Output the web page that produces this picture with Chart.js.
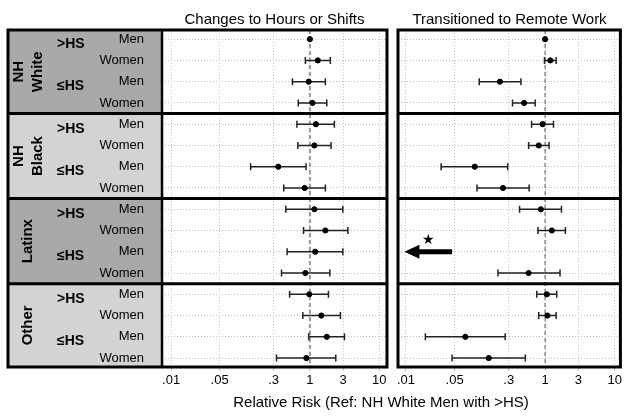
<!DOCTYPE html>
<html>
<head>
<meta charset="utf-8">
<script src="https://cdn.jsdelivr.net/npm/chart.js@4.4.0/dist/chart.umd.min.js"></script>
<style>
  html, body { margin: 0; padding: 0; background: #fff; overflow: hidden; }
  #wrap { position: relative; width: 624px; height: 418px; font-family: "Liberation Sans", Arial, sans-serif; }
  .title { position: absolute; font-size: 15px; line-height: 15px; text-align: center; color: #000; white-space: nowrap; }
  #hoursBox { position: absolute; left: 0; top: 0; width: 392px; height: 418px; }
  #remoteBox { position: absolute; left: 392px; top: 0; width: 232px; height: 418px; }
</style>
</head>
<body>
<div id="wrap">
  <div id="hoursBox"><canvas id="hours" width="392" height="418"></canvas></div>
  <div id="remoteBox"><canvas id="remote" width="232" height="418"></canvas></div>
  <div class="title" id="t1" style="left:162px;width:225px;top:11px"></div>
  <div class="title" id="t2" style="left:398px;width:223px;top:11px"></div>
  <div class="title" id="t3" style="left:100px;width:562px;top:394px"></div>
</div>
<script>
// categories (rows go group -> education -> sex)
const groupNames = [['NH', 'White'], ['NH', 'Black'], ['Latinx'], ['Other']];
const eduLabels = ['>HS', '≤HS'];
const sexLabels = ['Men', 'Women'];
const panelTitles = ['Changes to Hours or Shifts', 'Transitioned to Remote Work'];
const axisTitle = 'Relative Risk (Ref: NH White Men with >HS)';

// x axis ticks
const xTickValues = [0.01, 0.05, 0.3, 1, 3, 10];
const xTickLabels = ['.01', '.05', '.3', '1', '3', '10'];
const refValue = 1;

// relative risks, 16 rows
const hoursEst  = [1.00, 1.30, 0.96, 1.09, 1.22, 1.16, 0.35, 0.84, 1.16, 1.67, 1.19, 0.86, 0.98, 1.46, 1.75, 0.89];
const hoursLow  = [null, 0.86, 0.56, 0.68, 0.65, 0.67, 0.14, 0.42, 0.45, 0.81, 0.47, 0.39, 0.51, 0.79, 0.96, 0.33];
const hoursHigh = [null, 1.97, 1.67, 1.75, 2.25, 2.02, 0.88, 1.67, 2.98, 3.52, 2.98, 1.94, 1.85, 2.75, 3.14, 2.36];

const remoteEst  = [1.00, 1.19, 0.224, 0.50, 0.92, 0.81, 0.0975, 0.248, 0.87, 1.25, null, 0.58, 1.06, 1.08, 0.0714, 0.155];
const remoteLow  = [null, 0.98, 0.113, 0.34, 0.64, 0.58, 0.032, 0.105, 0.43, 0.79, null, 0.21, 0.76, 0.81, 0.019, 0.046];
const remoteHigh = [null, 1.44, 0.45, 0.72, 1.32, 1.14, 0.29, 0.59, 1.72, 1.96, null, 1.64, 1.47, 1.44, 0.267, 0.52];

// Latinx <=HS men, remote work: not estimable -> arrow with star
const arrowRow = 10;
const arrowFrom = 0.046;
const arrowTo = 0.0095;
const starAt = 0.021;

const FONT = '"Liberation Sans", Arial, sans-serif';
const rowPositions = [];
groupNames.forEach((g, gi) => eduLabels.forEach((e, ei) => sexLabels.forEach((s, si) => rowPositions.push(gi * 4 + ei * 2 + si))));

document.getElementById('t1').textContent = panelTitles[0];
document.getElementById('t2').textContent = panelTitles[1];
document.getElementById('t3').textContent = axisTitle;

const forestPlugin = (low, high, ref, labelLeft, drawLabels) => ({
  id: 'forest',
  beforeDatasetsDraw(chart) {
    const { ctx, chartArea: a, scales: { x, y } } = chart;
    ctx.save();
    // dashed reference line at RR = 1
    const rx = x.getPixelForValue(refValue);
    ctx.beginPath();
    ctx.setLineDash(ref.dash);
    ctx.strokeStyle = ref.color;
    ctx.lineWidth = ref.width;
    ctx.moveTo(rx, a.top);
    ctx.lineTo(rx, a.bottom);
    ctx.stroke();
    ctx.setLineDash([]);
    // confidence intervals
    ctx.strokeStyle = '#222';
    ctx.lineWidth = 1.5;
    low.forEach((lo, i) => {
      if (lo == null) return;
      const x1 = x.getPixelForValue(lo), x2 = x.getPixelForValue(high[i]);
      const py = y.getPixelForValue(rowPositions[i]);
      ctx.beginPath();
      ctx.moveTo(x1, py); ctx.lineTo(x2, py);
      ctx.moveTo(x1, py - 3.5); ctx.lineTo(x1, py + 3.5);
      ctx.moveTo(x2, py - 3.5); ctx.lineTo(x2, py + 3.5);
      ctx.stroke();
    });
    ctx.restore();
  },
  afterDraw(chart) {
    const { ctx, chartArea: a, scales: { y } } = chart;
    ctx.save();
    const seps = [3.5, 7.5, 11.5].map(v => y.getPixelForValue(v));
    const edges = [a.top, ...seps, a.bottom];
    if (drawLabels) {
      groupNames.forEach((g, gi) => {
        ctx.fillStyle = gi % 2 === 0 ? '#a9a9a9' : '#d3d3d3';
        ctx.fillRect(labelLeft, edges[gi], a.left - labelLeft, edges[gi + 1] - edges[gi]);
        // rotated group label
        const cy = (edges[gi] + edges[gi + 1]) / 2;
        ctx.save();
        ctx.translate(28, cy);
        ctx.rotate(-Math.PI / 2);
        ctx.fillStyle = '#000';
        ctx.font = 'bold 15px ' + FONT;
        ctx.textAlign = 'center';
        ctx.textBaseline = 'middle';
        g.forEach((line, li) => ctx.fillText(line, 0, (li - (g.length - 1) / 2) * 19));
        ctx.restore();
        eduLabels.forEach((e, ei) => {
          const row = gi * 4 + ei * 2;
          ctx.fillStyle = '#000';
          ctx.font = 'bold 14px ' + FONT;
          ctx.textAlign = 'left';
          ctx.textBaseline = 'middle';
          ctx.fillText(e, 57, y.getPixelForValue(row + 0.22));
          sexLabels.forEach((s, si) => {
            ctx.font = '13px ' + FONT;
            ctx.textAlign = 'right';
            ctx.fillText(s, 144, y.getPixelForValue(row + si));
          });
        });
      });
    }
    ctx.strokeStyle = '#000';
    ctx.lineWidth = 3;
    seps.forEach(sy => {
      ctx.beginPath();
      ctx.moveTo(labelLeft, sy);
      ctx.lineTo(a.right, sy);
      ctx.stroke();
    });
    ctx.strokeRect(labelLeft, a.top, a.right - labelLeft, a.bottom - a.top);
    if (drawLabels) {
      ctx.lineWidth = 2.5;
      ctx.beginPath();
      ctx.moveTo(a.left, a.top);
      ctx.lineTo(a.left, a.bottom);
      ctx.stroke();
    }
    ctx.restore();
  }
});

const arrowPlugin = {
  id: 'arrow',
  afterDatasetsDraw(chart) {
    const { ctx, scales: { x, y } } = chart;
    const py = y.getPixelForValue(rowPositions[arrowRow]);
    const xTail = x.getPixelForValue(arrowFrom), xTip = x.getPixelForValue(arrowTo);
    ctx.save();
    ctx.fillStyle = '#000';
    ctx.fillRect(xTip + 13, py - 2.5, xTail - xTip - 13, 5);
    ctx.beginPath();
    ctx.moveTo(xTip, py);
    ctx.lineTo(xTip + 15, py - 7);
    ctx.lineTo(xTip + 15, py + 7);
    ctx.closePath();
    ctx.fill();
    ctx.font = '14px "DejaVu Sans", sans-serif';
    ctx.textAlign = 'center';
    ctx.textBaseline = 'middle';
    ctx.fillText('★', x.getPixelForValue(starAt), y.getPixelForValue(rowPositions[arrowRow] - 0.55));
    ctx.restore();
  }
};

function makeChart(id, est, low, high, xMin, xMax, pad, ref, labelLeft, drawLabels, extra) {
  const points = [];
  est.forEach((v, i) => { if (v != null) points.push({ x: v, y: rowPositions[i] }); });
  return new Chart(document.getElementById(id).getContext('2d'), {
    type: 'scatter',
    data: {
      datasets: [{
        data: points,
        backgroundColor: '#000',
        borderColor: '#000',
        pointRadius: 2.6,
        pointHoverRadius: 2.6
      }]
    },
    options: {
      responsive: false,
      animation: false,
      layout: { padding: pad },
      plugins: { legend: { display: false }, tooltip: { enabled: false } },
      scales: {
        x: {
          type: 'logarithmic',
          min: xMin,
          max: xMax,
          afterBuildTicks: s => { s.ticks = xTickValues.map(v => ({ value: v })); },
          afterFit: s => { s.height = 51; },
          ticks: {
            callback: (v, i) => xTickLabels[i],
            color: '#000',
            font: { family: FONT, size: 13 },
            padding: 2,
            maxRotation: 0,
            autoSkip: false
          },
          grid: { color: '#c4c4c4', lineWidth: 1, drawTicks: true, tickLength: 4, tickColor: '#c4c4c4' },
          border: { display: false, dash: [1, 2] }
        },
        y: {
          type: 'linear',
          min: -0.43,
          max: 15.42,
          reverse: true,
          afterBuildTicks: s => { s.ticks = rowPositions.map(v => ({ value: v })); },
          afterFit: s => { s.width = 0; },
          ticks: { display: false },
          grid: { color: '#c4c4c4', lineWidth: 1, drawTicks: false },
          border: { display: false, dash: [1, 2] }
        }
      }
    },
    plugins: [forestPlugin(low, high, ref, labelLeft, drawLabels)].concat(extra)
  });
}

makeChart('hours', hoursEst, hoursLow, hoursHigh, 0.0074, 12.9,
  { left: 162, right: 5, top: 30, bottom: 0 },
  { dash: [4, 3], color: '#999', width: 2 }, 8, true, []);
makeChart('remote', remoteEst, remoteLow, remoteHigh, 0.00768, 12.1,
  { left: 6, right: 3, top: 30, bottom: 0 },
  { dash: [4, 3], color: '#555', width: 1 }, 6, false, [arrowPlugin]);
</script>
</body>
</html>
